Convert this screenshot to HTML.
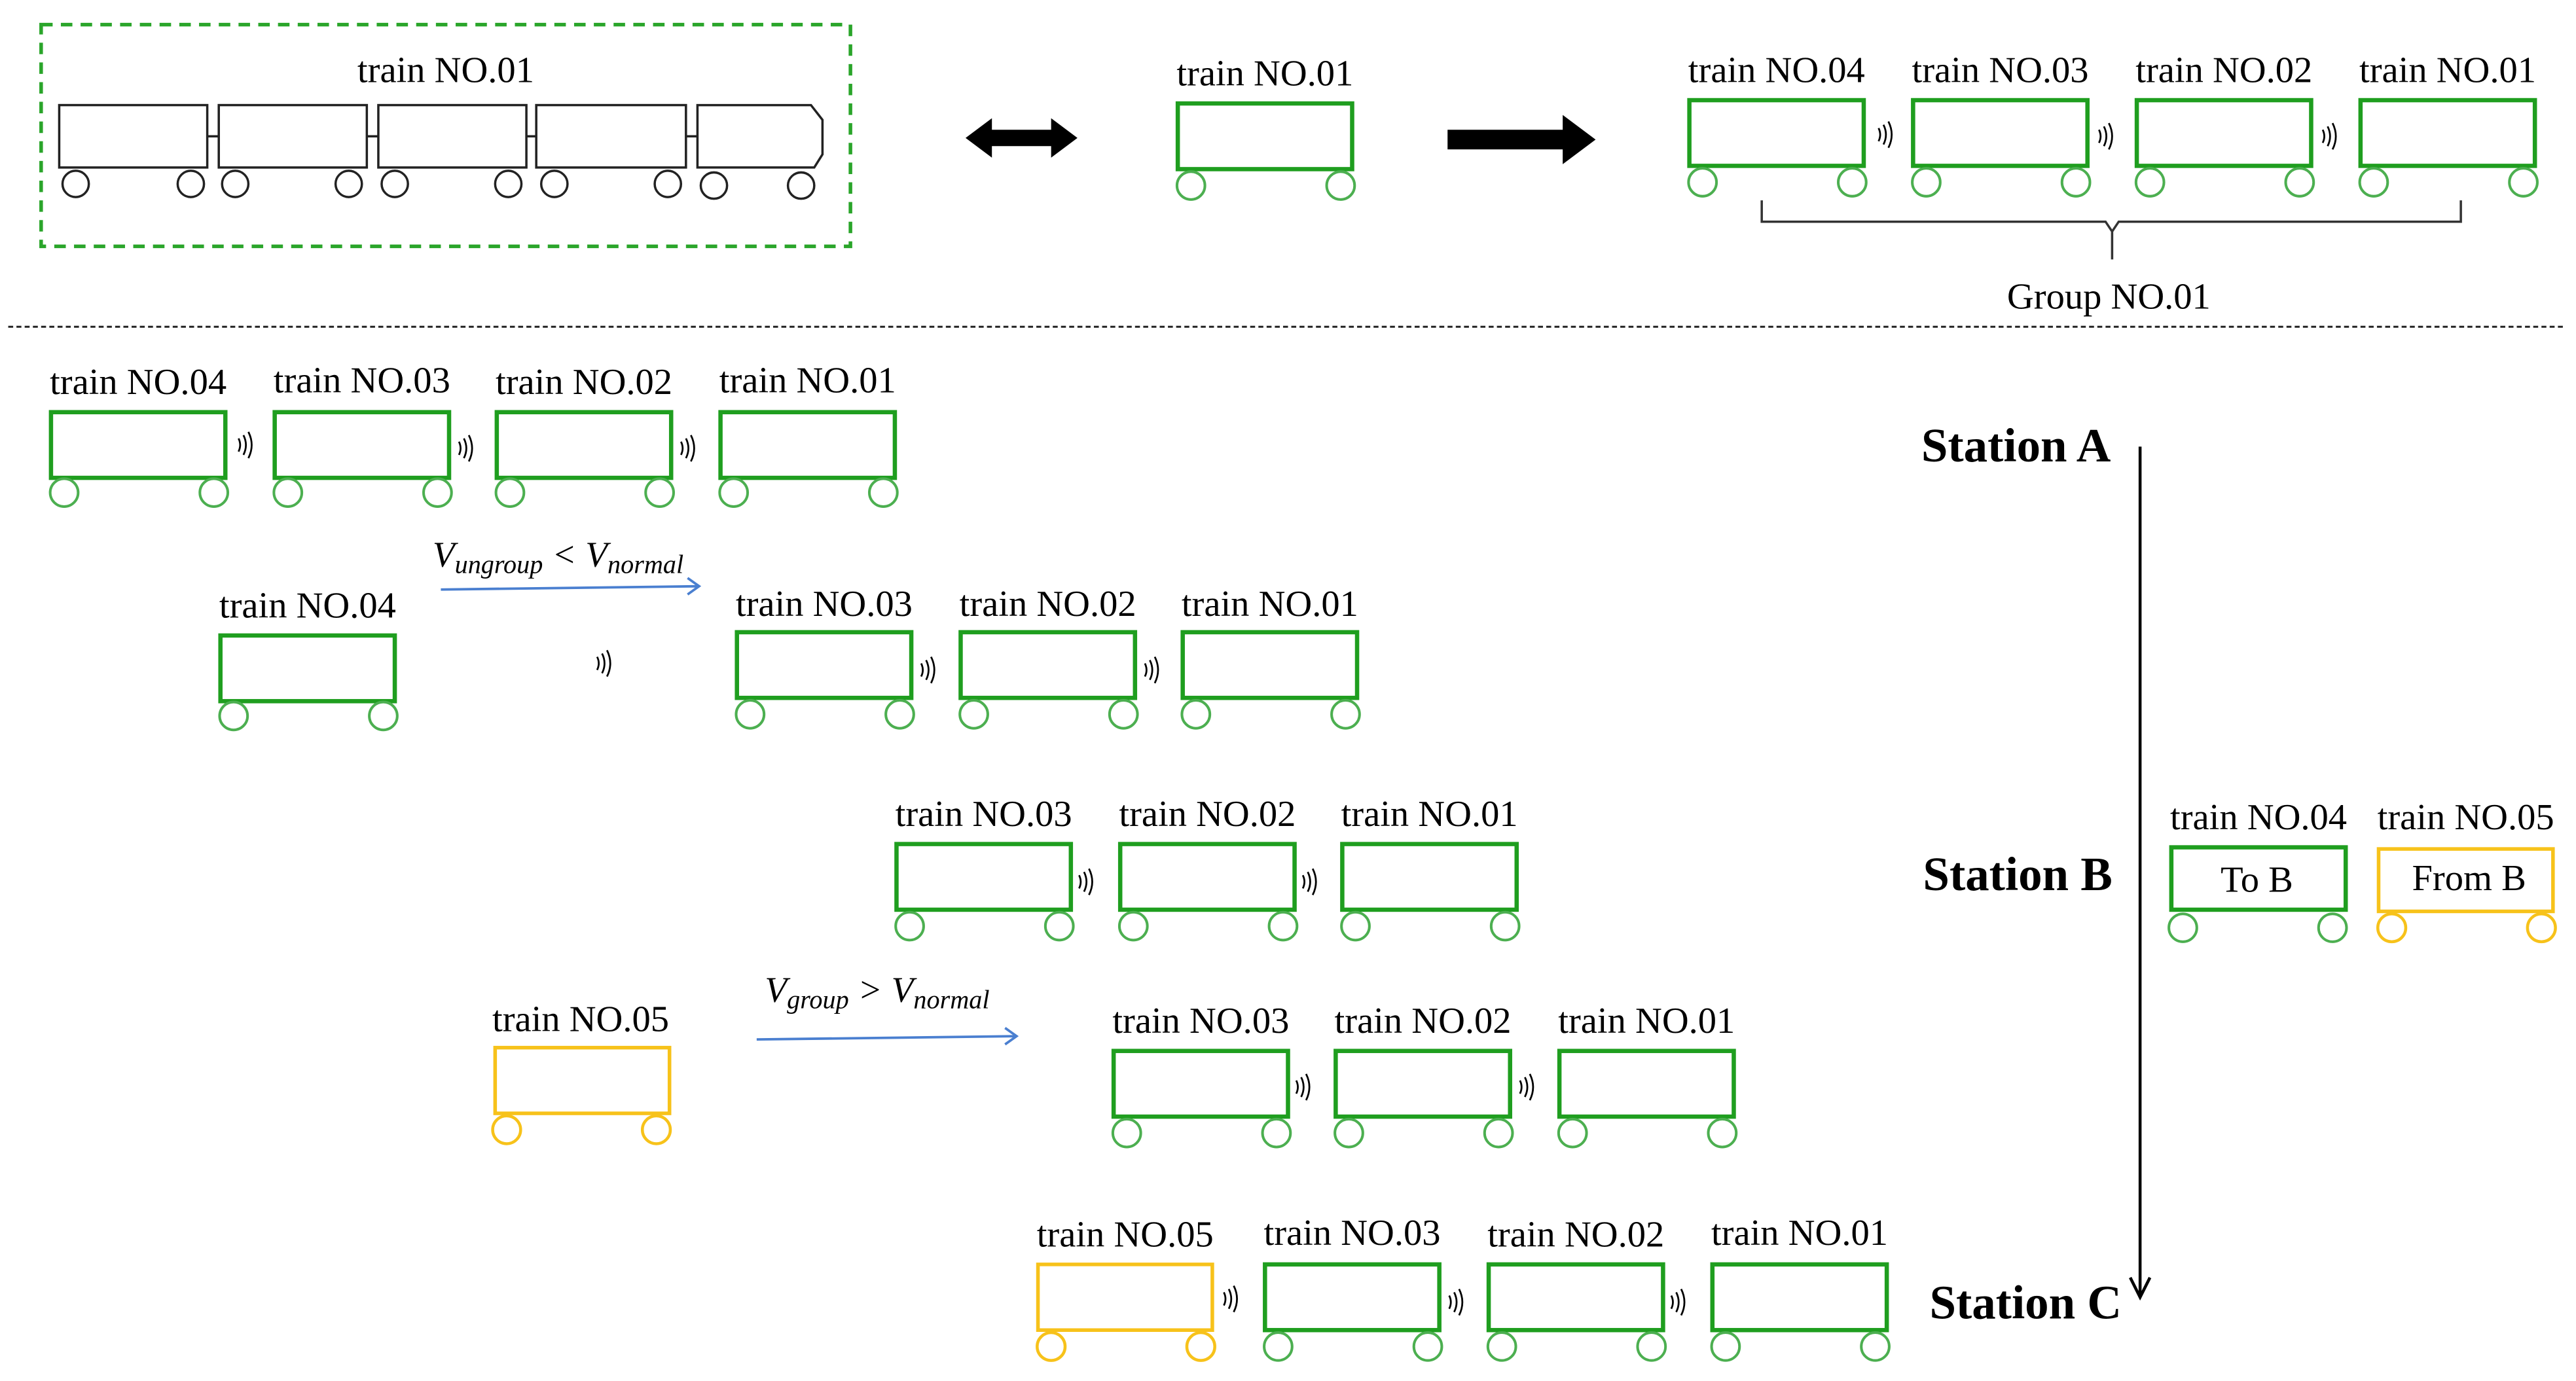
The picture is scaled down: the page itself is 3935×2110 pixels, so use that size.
<!DOCTYPE html>
<html><head><meta charset="utf-8"><style>
html,body{margin:0;padding:0;background:#fff;}
svg{display:block;}
text{font-family:"Liberation Serif",serif;fill:#000;}
.g rect{fill:none;stroke:#1f9e1f;stroke-width:2.6;}
.g circle{fill:#fff;stroke:#4caf50;stroke-width:1.6;}
.y rect{fill:none;stroke:#f7c21a;stroke-width:2.2;}
.y circle{fill:#fff;stroke:#f7c21a;stroke-width:1.8;}
.lbl{font-size:22.5px;text-anchor:middle;}
.st{font-size:29px;font-weight:bold;}
</style></head><body>
<svg width="3935" height="2110" viewBox="0 0 1566 841" preserveAspectRatio="none" xmlns="http://www.w3.org/2000/svg">
<defs><g id="sg"><path d="M0,-4 q2,4 0,8 M3,-6 q3,6 0,12 M6,-8 q4,8 0,16" fill="none" stroke="#000" stroke-width="1.1"/></g></defs>
<rect x="25" y="15" width="492" height="135" fill="none" stroke="#2aa52a" stroke-width="2.2" stroke-dasharray="7,5"/>
<text class="lbl" x="271" y="50">train NO.01</text>
<g fill="#fff" stroke="#222" stroke-width="1.4">
<line x1="126" y1="83" x2="133" y2="83"/><line x1="223" y1="83" x2="230" y2="83"/><line x1="320" y1="83" x2="326" y2="83"/><line x1="417" y1="83" x2="424" y2="83"/>
<rect x="36" y="64" width="90" height="38"/><rect x="133" y="64" width="90" height="38"/><rect x="230" y="64" width="90" height="38"/><rect x="326" y="64" width="91" height="38"/>
<path d="M424,64 H493 L500,73 V94 L495,102 H424 Z"/>
<circle cx="46" cy="112" r="8"/><circle cx="116" cy="112" r="8"/><circle cx="143" cy="112" r="8"/><circle cx="212" cy="112" r="8"/>
<circle cx="240" cy="112" r="8"/><circle cx="309" cy="112" r="8"/><circle cx="337" cy="112" r="8"/><circle cx="406" cy="112" r="8"/>
<circle cx="434" cy="113" r="8"/><circle cx="487" cy="113" r="8"/>
</g>
<path d="M587,84 L603,72 V79 H639 V72 L655,84 L639,96 V89 H603 V96 Z" fill="#000"/>
<path d="M880,79 H950 V70 L970,85 L950,100 V91 H880 Z" fill="#000"/>
<g class="g" transform="translate(716,63)"><rect width="106" height="40"/><circle cx="8" cy="50" r="8.5"/><circle cx="99" cy="50" r="8.5"/><text class="lbl" x="53" y="-11">train NO.01</text></g>
<g class="g" transform="translate(1027,61)"><rect width="106" height="40"/><circle cx="8" cy="50" r="8.5"/><circle cx="99" cy="50" r="8.5"/><text class="lbl" x="53" y="-11">train NO.04</text></g>
<g class="g" transform="translate(1163,61)"><rect width="106" height="40"/><circle cx="8" cy="50" r="8.5"/><circle cx="99" cy="50" r="8.5"/><text class="lbl" x="53" y="-11">train NO.03</text></g>
<g class="g" transform="translate(1299,61)"><rect width="106" height="40"/><circle cx="8" cy="50" r="8.5"/><circle cx="99" cy="50" r="8.5"/><text class="lbl" x="53" y="-11">train NO.02</text></g>
<g class="g" transform="translate(1435,61)"><rect width="106" height="40"/><circle cx="8" cy="50" r="8.5"/><circle cx="99" cy="50" r="8.5"/><text class="lbl" x="53" y="-11">train NO.01</text></g>
<use href="#sg" x="1142" y="82"/><use href="#sg" x="1276" y="83"/><use href="#sg" x="1412" y="83"/>
<path d="M1071,122 V135 H1280 L1284,141 L1288,135 H1496 V122 M1284,141 V158" fill="none" stroke="#333" stroke-width="1.4"/>
<text class="lbl" x="1282" y="188">Group NO.01</text>
<line x1="5" y1="199" x2="1560" y2="199" stroke="#222" stroke-width="1.2" stroke-dasharray="3,2"/>
<g class="g" transform="translate(31,251)"><rect width="106" height="40"/><circle cx="8" cy="49" r="8.5"/><circle cx="99" cy="49" r="8.5"/><text class="lbl" x="53" y="-11">train NO.04</text></g>
<g class="g" transform="translate(167,251)"><rect width="106" height="40"/><circle cx="8" cy="49" r="8.5"/><circle cx="99" cy="49" r="8.5"/><text class="lbl" x="53" y="-12">train NO.03</text></g>
<g class="g" transform="translate(302,251)"><rect width="106" height="40"/><circle cx="8" cy="49" r="8.5"/><circle cx="99" cy="49" r="8.5"/><text class="lbl" x="53" y="-11">train NO.02</text></g>
<g class="g" transform="translate(438,251)"><rect width="106" height="40"/><circle cx="8" cy="49" r="8.5"/><circle cx="99" cy="49" r="8.5"/><text class="lbl" x="53" y="-12">train NO.01</text></g>
<use href="#sg" x="145" y="271"/><use href="#sg" x="279" y="273"/><use href="#sg" x="414" y="273"/>
<text x="263" y="345" style="font-size:22px;font-style:italic">V<tspan style="font-size:16px" dy="4">ungroup</tspan><tspan dy="-4"> &lt; V</tspan><tspan style="font-size:16px" dy="4">normal</tspan></text>
<path d="M268,359 L425,357 M418,352 L425,357 L418,362" fill="none" stroke="#4a7fd0" stroke-width="1.5"/>
<g class="g" transform="translate(134,387)"><rect width="106" height="40"/><circle cx="8" cy="49" r="8.5"/><circle cx="99" cy="49" r="8.5"/><text class="lbl" x="53" y="-11">train NO.04</text></g>
<use href="#sg" x="363" y="404"/>
<g class="g" transform="translate(448,385)"><rect width="106" height="40"/><circle cx="8" cy="50" r="8.5"/><circle cx="99" cy="50" r="8.5"/><text class="lbl" x="53" y="-10">train NO.03</text></g>
<g class="g" transform="translate(584,385)"><rect width="106" height="40"/><circle cx="8" cy="50" r="8.5"/><circle cx="99" cy="50" r="8.5"/><text class="lbl" x="53" y="-10">train NO.02</text></g>
<g class="g" transform="translate(719,385)"><rect width="106" height="40"/><circle cx="8" cy="50" r="8.5"/><circle cx="99" cy="50" r="8.5"/><text class="lbl" x="53" y="-10">train NO.01</text></g>
<use href="#sg" x="560" y="408"/><use href="#sg" x="696" y="408"/>
<g class="g" transform="translate(545,514)"><rect width="106" height="40"/><circle cx="8" cy="50" r="8.5"/><circle cx="99" cy="50" r="8.5"/><text class="lbl" x="53" y="-11">train NO.03</text></g>
<g class="g" transform="translate(681,514)"><rect width="106" height="40"/><circle cx="8" cy="50" r="8.5"/><circle cx="99" cy="50" r="8.5"/><text class="lbl" x="53" y="-11">train NO.02</text></g>
<g class="g" transform="translate(816,514)"><rect width="106" height="40"/><circle cx="8" cy="50" r="8.5"/><circle cx="99" cy="50" r="8.5"/><text class="lbl" x="53" y="-11">train NO.01</text></g>
<use href="#sg" x="656" y="537"/><use href="#sg" x="792" y="537"/>
<g class="y" transform="translate(301,638)"><rect width="106" height="40"/><circle cx="7" cy="50" r="8.5"/><circle cx="98" cy="50" r="8.5"/><text class="lbl" x="52" y="-10">train NO.05</text></g>
<text x="465" y="610" style="font-size:22px;font-style:italic">V<tspan style="font-size:16px" dy="4">group</tspan><tspan dy="-4"> &gt; V</tspan><tspan style="font-size:16px" dy="4">normal</tspan></text>
<path d="M460,633 L618,631 M611,626 L618,631 L611,636" fill="none" stroke="#4a7fd0" stroke-width="1.5"/>
<g class="g" transform="translate(677,640)"><rect width="106" height="40"/><circle cx="8" cy="50" r="8.5"/><circle cx="99" cy="50" r="8.5"/><text class="lbl" x="53" y="-11">train NO.03</text></g>
<g class="g" transform="translate(812,640)"><rect width="106" height="40"/><circle cx="8" cy="50" r="8.5"/><circle cx="99" cy="50" r="8.5"/><text class="lbl" x="53" y="-11">train NO.02</text></g>
<g class="g" transform="translate(948,640)"><rect width="106" height="40"/><circle cx="8" cy="50" r="8.5"/><circle cx="99" cy="50" r="8.5"/><text class="lbl" x="53" y="-11">train NO.01</text></g>
<use href="#sg" x="788" y="662"/><use href="#sg" x="924" y="662"/>
<g class="y" transform="translate(631,770)"><rect width="106" height="40"/><circle cx="8" cy="50" r="8.5"/><circle cx="99" cy="50" r="8.5"/><text class="lbl" x="53" y="-11">train NO.05</text></g>
<g class="g" transform="translate(769,770)"><rect width="106" height="40"/><circle cx="8" cy="50" r="8.5"/><circle cx="99" cy="50" r="8.5"/><text class="lbl" x="53" y="-12">train NO.03</text></g>
<g class="g" transform="translate(905,770)"><rect width="106" height="40"/><circle cx="8" cy="50" r="8.5"/><circle cx="99" cy="50" r="8.5"/><text class="lbl" x="53" y="-11">train NO.02</text></g>
<g class="g" transform="translate(1041,770)"><rect width="106" height="40"/><circle cx="8" cy="50" r="8.5"/><circle cx="99" cy="50" r="8.5"/><text class="lbl" x="53" y="-12">train NO.01</text></g>
<use href="#sg" x="744" y="791"/><use href="#sg" x="881" y="793"/><use href="#sg" x="1016" y="793"/>
<path d="M1301,272 V790 M1295,778 L1301,790 L1307,778" fill="none" stroke="#000" stroke-width="1.8"/>
<text class="st" x="1168" y="281">Station A</text>
<text class="st" x="1169" y="542">Station B</text>
<text class="st" x="1173" y="803">Station C</text>
<g class="g" transform="translate(1320,516)"><rect width="106" height="38"/><circle cx="7" cy="49" r="8.5"/><circle cx="98" cy="49" r="8.5"/><text class="lbl" x="53" y="-11">train NO.04</text><text class="lbl" x="52" y="27">To B</text></g>
<g class="y" transform="translate(1446,517)"><rect width="106" height="38"/><circle cx="8" cy="48" r="8.5"/><circle cx="99" cy="48" r="8.5"/><text class="lbl" x="53" y="-12">train NO.05</text><text class="lbl" x="55" y="25">From B</text></g>
</svg>
</body></html>
